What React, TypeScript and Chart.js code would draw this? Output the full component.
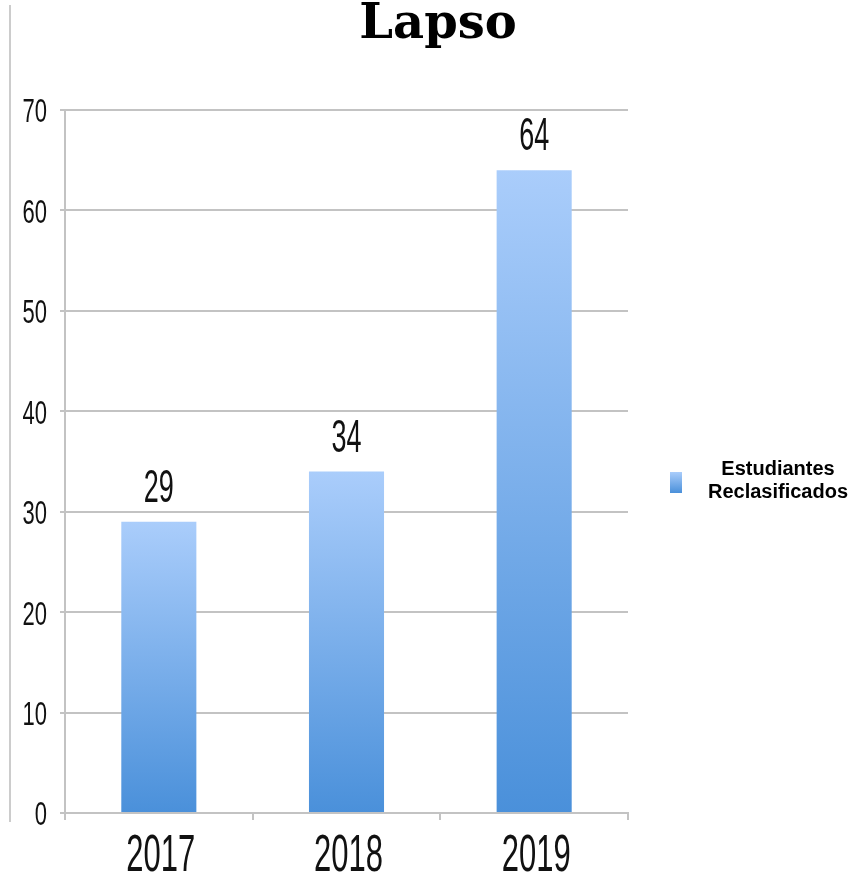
import React, { useEffect, useRef } from "react";
import { Chart, registerables } from "chart.js";

Chart.register(...registerables);

const categories = ["2017", "2018", "2019"];
const seriesName = ["Estudiantes", "Reclasificados"];
const values = [29, 34, 64];
const yTicks = [0, 10, 20, 30, 40, 50, 60, 70];
const titleText = "Lapso";

const SANS = '"Liberation Sans", Arial, sans-serif';
const TOP_COLOR = "#aacdfb";
const BOTTOM_COLOR = "#4a90da";
const GRID = "#c3c3c3";

// draw condensed, vertically stretched text (like the reference's narrow font)
function drawTall(
  ctx: CanvasRenderingContext2D,
  text: string,
  x: number,
  y: number,
  w: number,
  h: number,
  align: CanvasTextAlign,
  baseline: CanvasTextBaseline
) {
  ctx.save();
  ctx.translate(x, y);
  ctx.scale(1, h / w);
  ctx.font = w + "px " + SANS;
  ctx.fillStyle = "#111";
  ctx.textAlign = align;
  ctx.textBaseline = baseline;
  ctx.fillText(text, 0, 0);
  ctx.restore();
}

const extrasPlugin = {
  id: "extras",
  afterDraw(chart: any) {
    const ctx = chart.ctx;
    ctx.save();
    // left border line
    ctx.strokeStyle = "#cccccc";
    ctx.lineWidth = 2;
    ctx.beginPath();
    ctx.moveTo(10, 5);
    ctx.lineTo(10, 822);
    ctx.stroke();

    // title
    ctx.fillStyle = "#000";
    ctx.font = 'bold 48px "DejaVu Serif", serif';
    ctx.textAlign = "center";
    ctx.textBaseline = "alphabetic";
    ctx.fillText(titleText, 438, 38);

    // legend
    const g = ctx.createLinearGradient(0, 472, 0, 493);
    g.addColorStop(0, TOP_COLOR);
    g.addColorStop(1, BOTTOM_COLOR);
    ctx.fillStyle = g;
    ctx.fillRect(670, 472, 12, 21);
    ctx.fillStyle = "#000";
    ctx.font = 'bold 20px "Liberation Sans", Arial, sans-serif';
    ctx.fillText(seriesName[0], 778, 475);
    ctx.fillText(seriesName[1], 778, 498);

    // y tick labels
    const ys = chart.scales.y;
    ys.ticks.forEach((t: any) => {
      const py = ys.getPixelForValue(t.value);
      drawTall(ctx, String(t.value), 47, py + 3, 22, 34, "right", "middle");
    });

    // x tick labels
    const xs = chart.scales.x;
    categories.forEach((c, i) => {
      const px = xs.getPixelForValue(i);
      drawTall(ctx, c, px + 2, 857, 31, 51, "center", "middle");
    });

    // data labels
    const meta = chart.getDatasetMeta(0);
    meta.data.forEach((el: any, i: number) => {
      drawTall(ctx, String(values[i]), el.x, el.y - 20, 27, 46, "center", "alphabetic");
    });
    ctx.restore();
  },
};

export default function App() {
  const ref = useRef<HTMLCanvasElement>(null);
  useEffect(() => {
    if (!ref.current) return;
    const chart = new Chart(ref.current, {
      type: "bar",
      data: {
        labels: categories,
        datasets: [
          {
            label: seriesName.join(" "),
            data: values,
            barPercentage: 0.5,
            categoryPercentage: 0.8,
            borderWidth: 0,
            backgroundColor: (c: any) => {
              const ch = c.chart;
              if (!ch.chartArea || c.parsed == null) return TOP_COLOR;
              const ys = ch.scales.y;
              const top = ys.getPixelForValue(c.parsed.y);
              const base = ys.getPixelForValue(0);
              const grad = ch.ctx.createLinearGradient(0, top, 0, base);
              grad.addColorStop(0, TOP_COLOR);
              grad.addColorStop(1, BOTTOM_COLOR);
              return grad;
            },
          },
        ],
      },
      options: {
        responsive: false,
        animation: false,
        layout: { padding: { top: 110, right: 227, left: 0, bottom: 0 } },
        plugins: {
          legend: { display: false },
          title: { display: false },
          tooltip: { enabled: false },
        },
        scales: {
          x: {
            afterFit: (s: any) => {
              s.height = 65;
            },
            grid: {
              display: true,
              drawOnChartArea: false,
              drawTicks: true,
              tickLength: 7,
              color: GRID,
              lineWidth: 2,
            },
            border: { display: true, color: GRID, width: 2 },
            ticks: { display: false },
          },
          y: {
            min: 0,
            max: 70,
            afterFit: (s: any) => {
              s.width = 65;
            },
            afterBuildTicks: (s: any) => {
              s.ticks = yTicks.map((v) => ({ value: v }));
            },
            grid: { color: GRID, lineWidth: 2, tickLength: 5, drawTicks: true },
            border: { display: true, color: GRID, width: 2 },
            ticks: { display: false },
          },
        },
      },
      plugins: [extrasPlugin],
    });
    return () => chart.destroy();
  }, []);
  return (
    <div style={{ position: "fixed", left: 0, top: 0, width: 855, height: 878, background: "#fff" }}>
      <canvas ref={ref} width={855} height={878} style={{ display: "block" }} />
    </div>
  );
}
